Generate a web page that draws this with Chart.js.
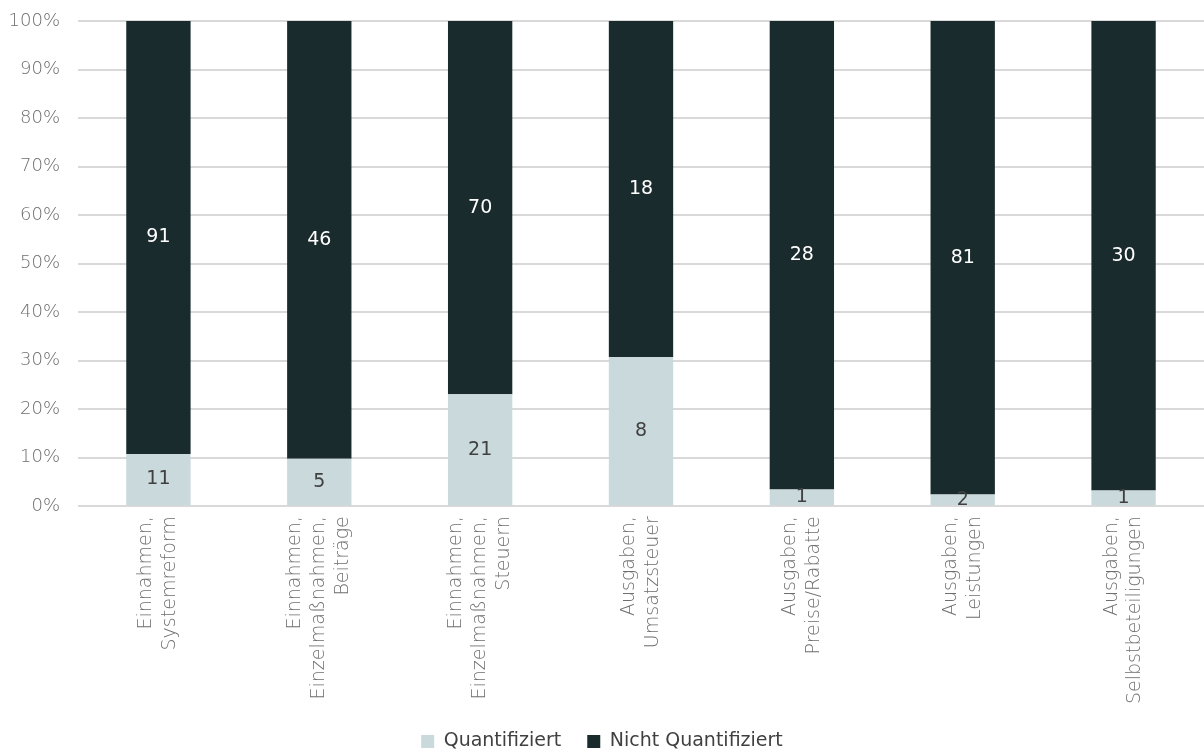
<!DOCTYPE html>
<html>
<head>
<meta charset="utf-8">
<script src="https://cdn.jsdelivr.net/npm/chart.js@4"></script>
<style>
  html, body { margin: 0; padding: 0; background: #fff; }
  #wrap { width: 1204px; height: 749px; }
</style>
</head>
<body>
<div id="wrap"><canvas id="chart"></canvas></div>
<script>
const categories = [
  ['Einnahmen,', 'Systemreform'],
  ['Einnahmen,', 'Einzelmaßnahmen,', 'Beiträge'],
  ['Einnahmen,', 'Einzelmaßnahmen,', 'Steuern'],
  ['Ausgaben,', 'Umsatzsteuer'],
  ['Ausgaben,', 'Preise/Rabatte'],
  ['Ausgaben,', 'Leistungen'],
  ['Ausgaben,', 'Selbstbeteiligungen']
];
const quantifiziert = [11, 5, 21, 8, 1, 2, 1];
const nichtQuantifiziert = [91, 46, 70, 18, 28, 81, 30];

const totals = quantifiziert.map((v, i) => v + nichtQuantifiziert[i]);
const toPct = arr => arr.map((v, i) => v / totals[i] * 100);

// draw the counts in the middle of each segment
const countLabels = {
  id: 'countLabels',
  afterDatasetsDraw(chart) {
    const ctx = chart.ctx;
    ctx.save();
    ctx.font = '19px "DejaVu Sans"';
    ctx.textAlign = 'center';
    ctx.textBaseline = 'middle';
    chart.data.datasets.forEach((ds, di) => {
      const meta = chart.getDatasetMeta(di);
      meta.data.forEach((bar, i) => {
        const y = (bar.y + bar.base) / 2;
        ctx.fillStyle = di === 0 ? '#404040' : '#ffffff';
        ctx.fillText(ds.counts[i], bar.x, y);
      });
    });
    ctx.restore();
  }
};

// center multi-line rotated x labels on their tick
const centerLabels = {
  id: 'centerLabels',
  beforeDraw(chart) {
    const scale = chart.scales.x;
    const items = scale.getLabelItems(chart.chartArea);
    items.forEach(item => {
      if (item._centered || !Array.isArray(item.label)) return;
      item.textOffset -= (item.label.length - 1) * item.font.lineHeight / 2;
      item._centered = true;
    });
  }
};

new Chart(document.getElementById('chart'), {
  type: 'bar',
  data: {
    labels: categories,
    datasets: [
      {
        label: 'Quantifiziert',
        data: toPct(quantifiziert),
        counts: quantifiziert,
        backgroundColor: '#c9d9dc'
      },
      {
        label: 'Nicht Quantifiziert',
        data: toPct(nichtQuantifiziert),
        counts: nichtQuantifiziert,
        backgroundColor: '#1a2b2e'
      }
    ]
  },
  options: {
    responsive: true,
    maintainAspectRatio: false,
    animation: false,
    datasets: {
      bar: { barPercentage: 0.4, categoryPercentage: 1 }
    },
    layout: { autoPadding: false, padding: { top: 21, right: 0, left: 0, bottom: -12 } },
    scales: {
      x: {
        stacked: true,
        grid: { display: false },
        border: { display: false },
        ticks: {
          color: '#6e6e6e',
          font: { family: 'DejaVu Sans', size: 19, weight: 300, lineHeight: 1.26 },
          maxRotation: 90,
          minRotation: 90,
          padding: 2
        }
      },
      y: {
        stacked: true,
        min: 0,
        max: 100,
        afterFit: scale => {
          scale.width = 78;
          scale.paddingTop = 0;
        },
        grid: { color: '#d9d9d9', lineWidth: 2, drawTicks: false },
        border: { display: false },
        ticks: {
          stepSize: 10,
          color: '#6e6e6e',
          padding: 18,
          font: { family: 'DejaVu Sans', size: 18, weight: 300 },
          callback: v => v + '%'
        }
      }
    },
    plugins: {
      legend: {
        position: 'bottom',
        labels: {
          color: '#404040',
          boxWidth: 13,
          boxHeight: 13,
          padding: 26,
          font: { family: 'DejaVu Sans', size: 19 }
        }
      },
      tooltip: { enabled: false }
    }
  },
  plugins: [countLabels, centerLabels]
});
</script>
</body>
</html>
